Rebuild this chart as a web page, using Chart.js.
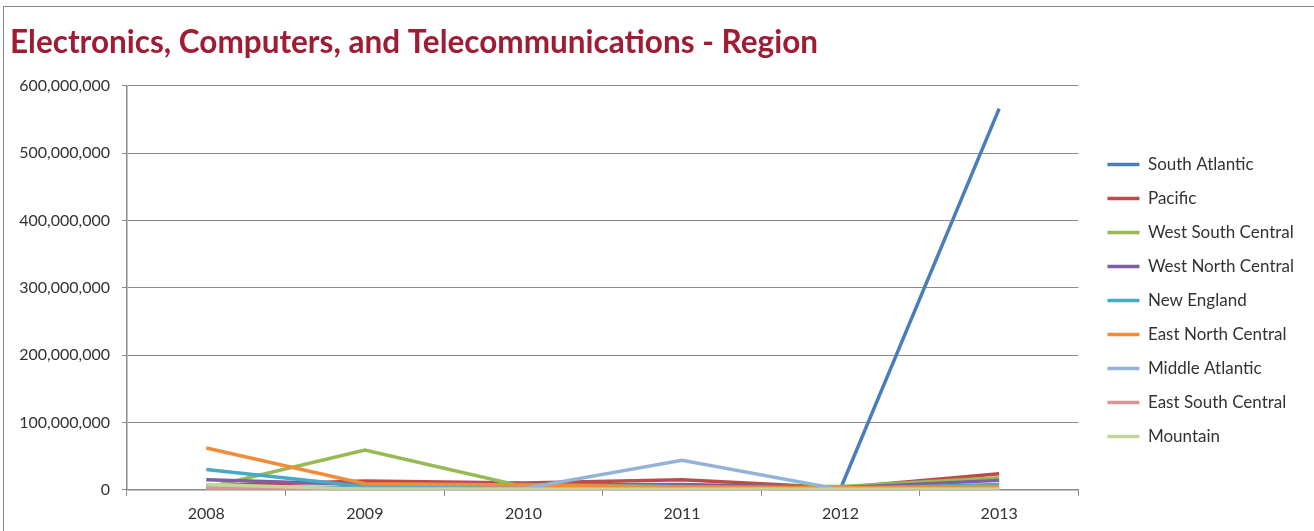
<!DOCTYPE html>
<html>
<head>
<meta charset="utf-8">
<script src="https://cdn.jsdelivr.net/npm/chart.js@4.4.1/dist/chart.umd.min.js"></script>
<style>
  body { margin: 0; background: #fff; }
  #wrap { position: relative; width: 1314px; height: 531px; overflow: hidden; }
  #frame { position: absolute; left: 3px; top: 6px; width: 1330px; height: 560px; border: 1.5px solid #8a8a8a; }
  #myChart { position: absolute; left: 0; top: 0; }
</style>
</head>
<body>
<div id="wrap">
  <div id="frame"></div>
  <canvas id="myChart" width="1314" height="531"></canvas>
</div>
<script>
const years = ['2008', '2009', '2010', '2011', '2012', '2013'];

const regionNames = ['South Atlantic', 'Pacific', 'West South Central', 'West North Central',
  'New England', 'East North Central', 'Middle Atlantic', 'East South Central', 'Mountain'];

const southAtlantic = [5000000, 3000000, 4000000, 5000000, 2000000, 566000000];
const pacific = [6000000, 13000000, 10000000, 15000000, 3000000, 24000000];
const westSouthCentral = [3000000, 59000000, 5000000, 5000000, 5000000, 18000000];
const westNorthCentral = [15000000, 8000000, 7000000, 8000000, 3000000, 14000000];
const newEngland = [30000000, 5000000, 8000000, 5000000, 2000000, 8000000];
const eastNorthCentral = [62000000, 9000000, 7000000, 4000000, 3000000, 5000000];
const middleAtlantic = [3000000, 2000000, 2000000, 44000000, 500000, 2000000];
const eastSouthCentral = [2000000, 1000000, 1000000, 1000000, 1000000, 1000000];
const mountain = [8000000, 1000000, 1000000, 1000000, 1000000, 1000000];

const yTicks = [0, 100000000, 200000000, 300000000, 400000000, 500000000, 600000000];

const regionValues = [southAtlantic, pacific, westSouthCentral, westNorthCentral,
  newEngland, eastNorthCentral, middleAtlantic, eastSouthCentral, mountain];
const regionColors = ['#4A7EBB', '#BE4B48', '#98B954', '#7D60A0', '#46AAC5',
  '#F08C3A', '#95B3D7', '#D99694', '#C3D69B'];

const gridColor = '#8a8a8a';
const textColor = '#333333';

// where the legend sits, excel puts it a bit off the plot
const legendGap = 12;
const legendTop = 156;

let datasets = [];
regionNames.forEach((name, i) => {
  datasets.push({
    label: name,
    data: regionValues[i],
    borderColor: regionColors[i],
    backgroundColor: regionColors[i],
    borderWidth: 3.5,
    pointRadius: 0,
    tension: 0,
    // excel paints later series on top
    order: regionNames.length - 1 - i
  });
});

const legendShift = {
  id: 'legendShift',
  afterLayout(chart) {
    const lg = chart.legend;
    const pad = lg.options.labels.padding;
    const colHeight = lg.columnSizes[0].height;
    const w = lg.right - lg.left;
    lg.left = chart.chartArea.right + legendGap;
    lg.right = lg.left + w;
    lg.top = legendTop - pad;
    lg.bottom = lg.top + pad + colHeight;
    lg.width = w;
    lg.height = lg.bottom - lg.top;
  }
};

const ctx = document.getElementById('myChart');

const myChart = new Chart(ctx, {
  type: 'line',
  data: {
    labels: years,
    datasets: datasets
  },
  plugins: [legendShift],
  options: {
    responsive: false,
    animation: false,
    layout: {
      padding: { left: 10, right: 22, top: 0, bottom: 0 }
    },
    plugins: {
      title: {
        display: true,
        text: 'Electronics, Computers, and Telecommunications - Region',
        align: 'start',
        color: '#A01C35',
        font: { family: 'Lato', size: 31.5, weight: 'bold' },
        padding: { top: 24, bottom: 24 }
      },
      legend: {
        position: 'right',
        labels: {
          usePointStyle: true,
          pointStyle: 'line',
          pointStyleWidth: 32,
          padding: 17,
          color: textColor,
          font: { family: 'Lato', size: 17 },
          sort: (a, b) => a.datasetIndex - b.datasetIndex
        }
      },
      tooltip: { enabled: false }
    },
    scales: {
      x: {
        offset: true,
        grid: {
          offset: true,
          drawOnChartArea: false,
          drawTicks: true,
          tickLength: 6,
          color: gridColor
        },
        border: { color: gridColor, width: 1.5 },
        ticks: {
          color: textColor,
          padding: 8,
          font: { family: 'Lato', size: 16 }
        }
      },
      y: {
        min: 0,
        max: 600000000,
        afterBuildTicks: scale => {
          scale.ticks = yTicks.map(v => ({ value: v }));
        },
        afterFit: scale => {
          scale.width = 117;
        },
        grid: {
          color: gridColor,
          tickLength: 5,
          lineWidth: 1
        },
        border: { color: gridColor, width: 1.5 },
        ticks: {
          color: textColor,
          padding: 12,
          font: { family: 'Lato', size: 16 },
          callback: v => v.toLocaleString('en-US')
        }
      }
    }
  }
});
</script>
</body>
</html>
